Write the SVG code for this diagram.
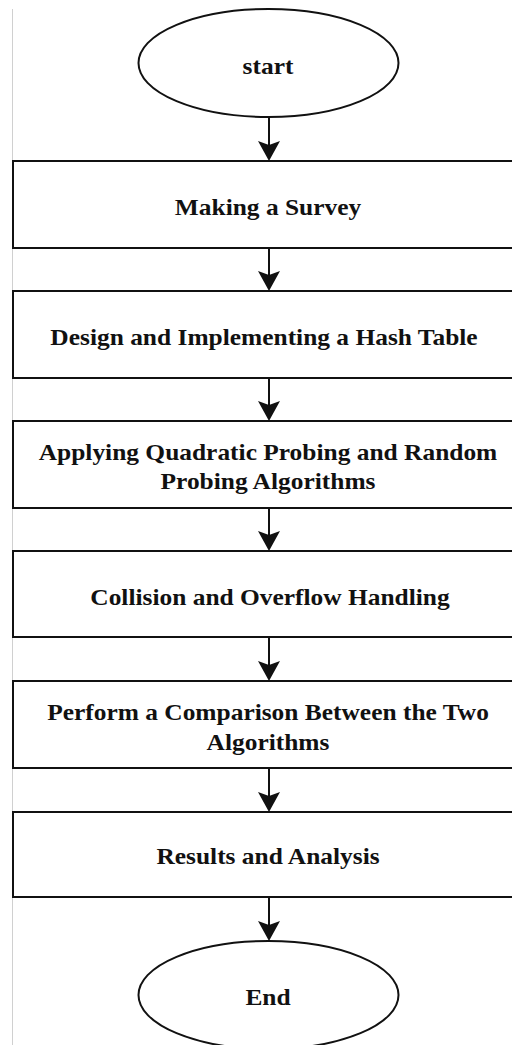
<svg xmlns="http://www.w3.org/2000/svg" width="512" height="1045" viewBox="0 0 512 1045">
<defs>
<style>
.shape{fill:#fff;stroke:#111;stroke-width:2}
.lbl{font-family:"Liberation Serif","Times New Roman",serif;font-weight:bold;font-size:22.5px;fill:#111;text-anchor:middle}
.conn{stroke:#111;stroke-width:2;fill:none}
.head{fill:#111;stroke:none}
</style>
</defs>
<rect width="512" height="1045" fill="#fff"/>
<line x1="12.5" y1="9" x2="12.5" y2="1045" stroke="#d0d0d0" stroke-width="1"/>
<g id="start">
<ellipse class="shape" cx="268.5" cy="63" rx="130" ry="54"/>
<g transform="translate(268,0) scale(1.13,1)"><text class="lbl" x="0" y="74">start</text></g>
</g>
<g id="survey">
<rect class="shape" x="13" y="161" width="510" height="87"/>
<g transform="translate(268,0) scale(1.13,1)"><text class="lbl" x="0" y="215">Making a Survey</text></g>
</g>
<g id="design">
<rect class="shape" x="13" y="291" width="510" height="87"/>
<g transform="translate(264,0) scale(1.13,1)"><text class="lbl" x="0" y="345">Design and Implementing a Hash Table</text></g>
</g>
<g id="applying">
<rect class="shape" x="13" y="421" width="510" height="87"/>
<g transform="translate(268,0) scale(1.13,1)"><text class="lbl" x="0" y="460">Applying Quadratic Probing and Random</text><text class="lbl" x="0" y="489">Probing Algorithms</text></g>
</g>
<g id="collision">
<rect class="shape" x="13" y="551" width="510" height="86"/>
<g transform="translate(270,0) scale(1.13,1)"><text class="lbl" x="0" y="605">Collision and Overflow Handling</text></g>
</g>
<g id="compare">
<rect class="shape" x="13" y="681" width="510" height="87"/>
<g transform="translate(268,0) scale(1.13,1)"><text class="lbl" x="0" y="720">Perform a Comparison Between the Two</text><text class="lbl" x="0" y="750">Algorithms</text></g>
</g>
<g id="results">
<rect class="shape" x="13" y="812" width="510" height="85"/>
<g transform="translate(268,0) scale(1.13,1)"><text class="lbl" x="0" y="864">Results and Analysis</text></g>
</g>
<g id="end">
<ellipse class="shape" cx="268.5" cy="995" rx="130" ry="54"/>
<g transform="translate(268,0) scale(1.13,1)"><text class="lbl" x="0" y="1005">End</text></g>
</g>
<g id="connectors">
<line class="conn" x1="269" y1="117" x2="269" y2="145"/>
<path class="head" d="M258,141 L269,161 L280,141 L269,145 Z"/>
<line class="conn" x1="269" y1="248" x2="269" y2="275"/>
<path class="head" d="M258,271 L269,291 L280,271 L269,275 Z"/>
<line class="conn" x1="269" y1="378" x2="269" y2="405"/>
<path class="head" d="M258,401 L269,421 L280,401 L269,405 Z"/>
<line class="conn" x1="269" y1="508" x2="269" y2="535"/>
<path class="head" d="M258,531 L269,551 L280,531 L269,535 Z"/>
<line class="conn" x1="269" y1="637" x2="269" y2="665"/>
<path class="head" d="M258,661 L269,681 L280,661 L269,665 Z"/>
<line class="conn" x1="269" y1="768" x2="269" y2="796"/>
<path class="head" d="M258,792 L269,812 L280,792 L269,796 Z"/>
<line class="conn" x1="269" y1="897" x2="269" y2="925"/>
<path class="head" d="M258,921 L269,941 L280,921 L269,925 Z"/>
</g>
</svg>
